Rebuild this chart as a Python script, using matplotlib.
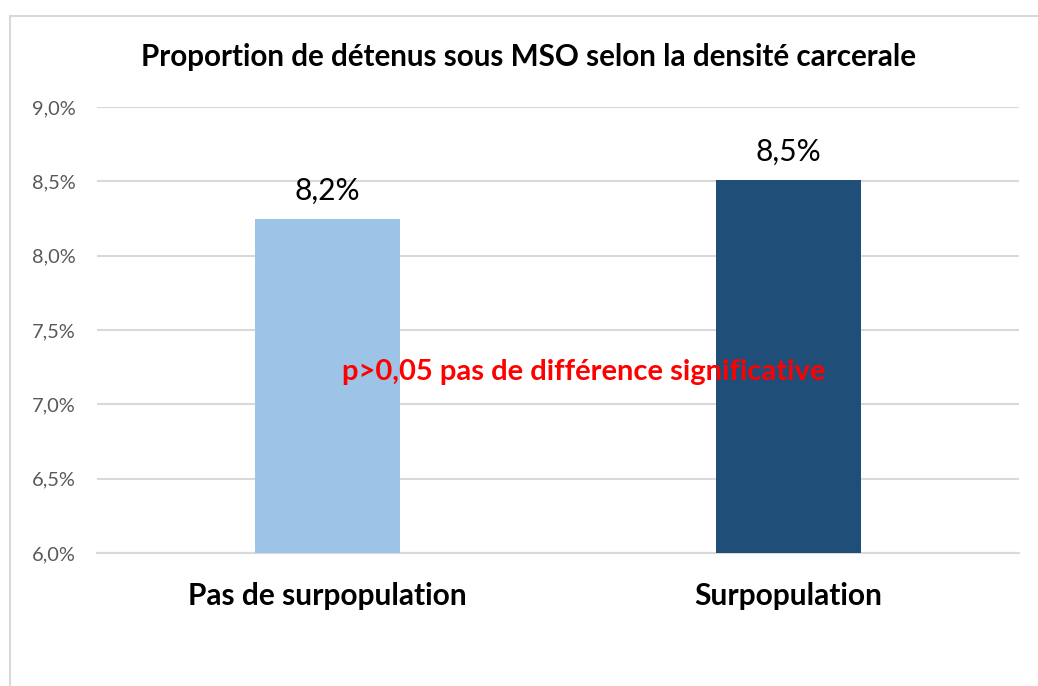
import matplotlib
matplotlib.use("Agg")
import matplotlib.pyplot as plt
from matplotlib.patches import Rectangle
import matplotlib.ticker as ticker

# -----------------------------
# Data
# -----------------------------
categories = ["Pas de surpopulation", "Surpopulation"]
values = [8.247, 8.509]
value_labels = ["8,2%", "8,5%"]
bar_colors = ["#9dc3e6", "#1f4e79"]
y_ticks = [6.0, 6.5, 7.0, 7.5, 8.0, 8.5, 9.0]
title = "Proportion de détenus sous MSO selon la densité carcerale"
note = "p>0,05 pas de différence significative"

plt.rcParams['font.family'] = ['Lato', 'DejaVu Sans']

fig = plt.figure(figsize=(10.38, 6.86), dpi=100)
ax = fig.add_axes([0.0934, 0.1939, 0.8883, 0.6501])

# Chart border (left / top only visible)
fig.patches.append(Rectangle((9.5 / 1038, -0.1), 1.2, 1 - 15.5 / 686 + 0.1,
                             transform=fig.transFigure, fill=False,
                             edgecolor="#d9d9d9", linewidth=1.5))

x = list(range(len(categories)))
ax.bar(x, [v - 6.0 for v in values], bottom=6.0, width=0.313,
       color=bar_colors, zorder=3)

for xi, v, lab in zip(x, values, value_labels):
    ax.annotate(lab, (xi, v), xytext=(0, 20), textcoords="offset points",
                ha="center", va="center", fontsize=21.5, color="black")

ax.set_xlim(-0.5, 1.5)
ax.set_ylim(6.0, 9.0)
ax.set_yticks(y_ticks)
ax.yaxis.set_major_formatter(
    ticker.FuncFormatter(lambda v, p: f"{v:.1f}%".replace(".", ",")))
ax.set_xticks(x)
ax.set_xticklabels(categories, fontsize=21.5, fontweight="bold")

ax.grid(axis="y", color="#d9d9d9", linewidth=1.5, zorder=0)
for side in ["top", "right", "left"]:
    ax.spines[side].set_visible(False)
ax.spines["bottom"].set_color("#d9d9d9")
ax.spines["bottom"].set_linewidth(1.5)
ax.tick_params(axis="y", length=0, labelsize=14.4, labelcolor="#595959", pad=15)
ax.tick_params(axis="x", length=0, pad=21)

ax.text(0.556, 7.217, note, ha="center", va="center", fontsize=21,
        fontweight="bold", color="#ff0000", zorder=4)

fig.text(0.5087, 1 - 57 / 686, title, ha="center", va="center",
         fontsize=21.3, fontweight="bold")

fig.savefig("out.png", dpi=100)
